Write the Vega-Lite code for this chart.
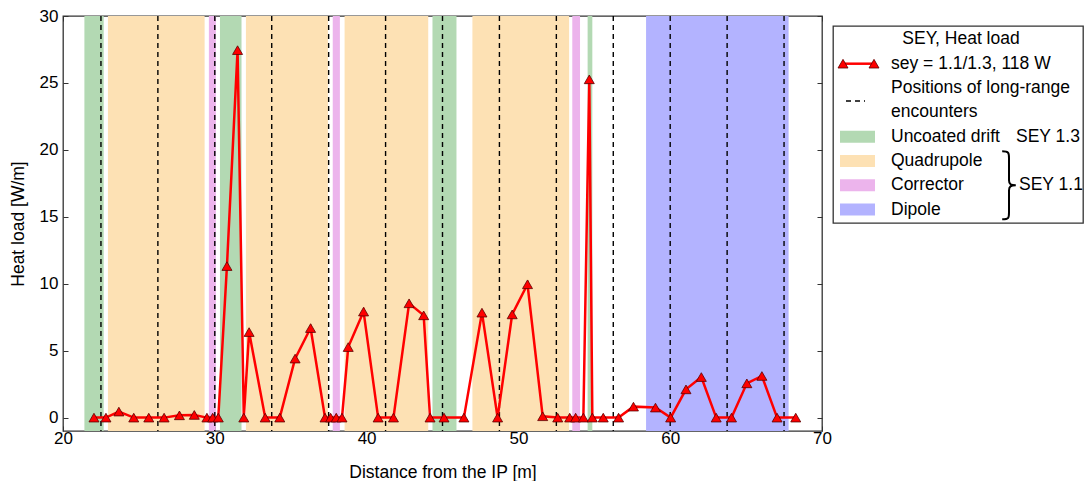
{
  "$schema": "https://vega.github.io/schema/vega-lite/v6.json",
  "background": "white",
  "padding": {"left": 8, "top": 6, "right": 2, "bottom": 0},
  "spacing": -2,
  "config": {
    "font": "Liberation Sans",
    "view": {"stroke": "#333333", "strokeWidth": 1.3},
    "axis": {"domain": false, "grid": false, "labelFlush": false, "labelFont": "Liberation Sans", "labelFontSize": 17, "labelColor": "#000000", "titleFont": "Liberation Sans", "titleFontSize": 17.5, "titleFontWeight": "normal", "titleColor": "#000000", "tickColor": "#333333", "tickSize": -5, "tickWidth": 1},
    "text": {"font": "Liberation Sans", "fontSize": 17.5, "color": "#000000", "baseline": "middle"}
  },
  "datasets": {
    "heat": [
      {"s": 22.04, "q": 0}, {"s": 22.83, "q": 0}, {"s": 23.68, "q": 0.45}, {"s": 24.66, "q": 0}, {"s": 25.65, "q": 0},
      {"s": 26.66, "q": 0}, {"s": 27.67, "q": 0.17}, {"s": 28.65, "q": 0.2}, {"s": 29.48, "q": 0}, {"s": 29.86, "q": 0},
      {"s": 30.23, "q": 0}, {"s": 30.8, "q": 11.32}, {"s": 31.5, "q": 27.45}, {"s": 31.91, "q": 0}, {"s": 32.26, "q": 6.39},
      {"s": 33.32, "q": 0}, {"s": 34.28, "q": 0}, {"s": 35.29, "q": 4.41}, {"s": 36.31, "q": 6.69}, {"s": 37.26, "q": 0},
      {"s": 37.63, "q": 0}, {"s": 38.0, "q": 0}, {"s": 38.38, "q": 0}, {"s": 38.79, "q": 5.27}, {"s": 39.8, "q": 7.92},
      {"s": 40.76, "q": 0}, {"s": 41.77, "q": 0}, {"s": 42.8, "q": 8.54}, {"s": 43.76, "q": 7.64}, {"s": 44.18, "q": 0},
      {"s": 45.1, "q": 0}, {"s": 46.41, "q": 0}, {"s": 47.6, "q": 7.84}, {"s": 48.63, "q": 0}, {"s": 49.59, "q": 7.71},
      {"s": 50.6, "q": 9.96}, {"s": 51.6, "q": 0.1}, {"s": 52.59, "q": 0}, {"s": 53.38, "q": 0}, {"s": 53.77, "q": 0},
      {"s": 54.28, "q": 0}, {"s": 54.67, "q": 25.27}, {"s": 54.87, "q": 0}, {"s": 55.59, "q": 0}, {"s": 56.6, "q": 0},
      {"s": 57.58, "q": 0.82}, {"s": 59.03, "q": 0.75}, {"s": 60.03, "q": 0}, {"s": 61.04, "q": 2.11}, {"s": 62.05, "q": 3.03},
      {"s": 63.03, "q": 0}, {"s": 64.04, "q": 0}, {"s": 65.05, "q": 2.56}, {"s": 66.04, "q": 3.11}, {"s": 67.04, "q": 0},
      {"s": 68.27, "q": 0}
    ],
    "lre": [
      {"pos": 22.5}, {"pos": 26.25}, {"pos": 30.0}, {"pos": 33.75}, {"pos": 37.5}, {"pos": 41.25}, {"pos": 45.0},
      {"pos": 48.75}, {"pos": 52.5}, {"pos": 56.25}, {"pos": 60.0}, {"pos": 63.75}, {"pos": 67.5}
    ],
    "regions": [
      {"type": "Uncoated drift", "start": 21.41, "end": 22.68},
      {"type": "Quadrupole", "start": 22.96, "end": 29.33},
      {"type": "Corrector", "start": 29.61, "end": 30.07},
      {"type": "Uncoated drift", "start": 30.34, "end": 31.76},
      {"type": "Quadrupole", "start": 32.05, "end": 37.45},
      {"type": "Corrector", "start": 37.77, "end": 38.24},
      {"type": "Quadrupole", "start": 38.55, "end": 44.06},
      {"type": "Uncoated drift", "start": 44.34, "end": 45.92},
      {"type": "Quadrupole", "start": 46.97, "end": 53.34},
      {"type": "Corrector", "start": 53.55, "end": 54.06},
      {"type": "Uncoated drift", "start": 54.56, "end": 54.87},
      {"type": "Dipole", "start": 58.41, "end": 67.8}
    ],
    "legend": [
      {"key": "title", "label": "SEY, Heat load", "kind": "title"},
      {"key": "series", "label": "sey = 1.1/1.3, 118 W", "kind": "series"},
      {"key": "enc1", "label": "Positions of long-range", "kind": "enc"},
      {"key": "enc2", "label": "encounters", "kind": "enc2"},
      {"key": "drift", "label": "Uncoated drift", "kind": "region", "type": "Uncoated drift"},
      {"key": "quad", "label": "Quadrupole", "kind": "region", "type": "Quadrupole"},
      {"key": "corr", "label": "Corrector", "kind": "region", "type": "Corrector"},
      {"key": "dipole", "label": "Dipole", "kind": "region", "type": "Dipole"},
      {"key": "drift", "label": "SEY 1.3", "kind": "note13"},
      {"key": "corr", "label": "SEY 1.1", "kind": "note11"},
      {"key": "corr", "label": "", "kind": "brace"}
    ]
  },
  "hconcat": [
    {
      "width": 759,
      "height": 415,
      "layer": [
        {
          "data": {"name": "regions"},
          "mark": {"type": "rect"},
          "encoding": {
            "x": {"field": "start", "type": "quantitative", "scale": {"domain": [20, 70], "nice": false, "zero": false}, "axis": null},
            "x2": {"field": "end"},
            "color": {"field": "type", "type": "nominal", "scale": {"domain": ["Uncoated drift", "Quadrupole", "Corrector", "Dipole"], "range": ["#b3d9b3", "#fde1b4", "#ecb4ec", "#b3b3ff"]}, "legend": null}
          }
        },
        {
          "data": {"name": "lre"},
          "mark": {"type": "rule", "strokeDash": [5, 4], "color": "#000000", "strokeWidth": 1.4},
          "encoding": {
            "x": {"field": "pos", "type": "quantitative", "axis": null}
          }
        },
        {
          "data": {"name": "heat"},
          "mark": {"type": "line", "color": "#ff0000", "strokeWidth": 2.5},
          "encoding": {
            "x": {"field": "s", "type": "quantitative", "scale": {"domain": [20, 70], "nice": false, "zero": false}, "axis": {"title": "Distance from the IP [m]", "values": [20, 30, 40, 50, 60, 70], "labelPadding": 4, "titlePadding": 17}},
            "y": {"field": "q", "type": "quantitative", "scale": {"domain": [-1, 30], "nice": false, "zero": false}, "axis": {"title": "Heat load [W/m]", "values": [0, 5, 10, 15, 20, 25, 30], "labelPadding": 10, "titlePadding": 12}}
          }
        },
        {
          "data": {"name": "heat"},
          "mark": {"type": "point", "shape": "triangle-up", "filled": true, "fill": "#ff0000", "stroke": "#5a0000", "strokeWidth": 0.8, "size": 100, "opacity": 1},
          "encoding": {
            "x": {"field": "s", "type": "quantitative", "axis": {"orient": "top", "labels": false, "title": null, "values": [20, 30, 40, 50, 60, 70]}},
            "y": {"field": "q", "type": "quantitative", "axis": {"orient": "right", "labels": false, "title": null, "values": [0, 5, 10, 15, 20, 25, 30]}}
          }
        }
      ],
      "resolve": {"axis": {"x": "independent", "y": "independent"}}
    },
    {
      "spacing": 8,
      "vconcat": [
        {
          "width": 250,
          "height": 1,
          "view": {"stroke": null},
          "data": {"values": []},
          "mark": {"type": "text"},
          "encoding": {"text": {"field": "blank"}}
        },
        {
          "width": 250,
          "height": 197,
          "data": {"name": "legend"},
          "layer": [
            {
              "transform": [{"filter": "datum.kind === 'title'"}],
              "mark": {"type": "text", "align": "center"},
              "encoding": {
                "x": {"datum": 128, "type": "quantitative", "scale": {"domain": [0, 250], "nice": false, "zero": false}, "axis": null},
                "y": {"field": "key", "type": "nominal", "scale": {"type": "point", "domain": ["title", "series", "enc1", "enc2", "drift", "quad", "corr", "dipole"], "padding": 0.55}, "axis": null},
                "text": {"field": "label"}
              }
            },
            {
              "transform": [{"filter": "datum.kind === 'series' || datum.kind === 'enc' || datum.kind === 'enc2' || datum.kind === 'region'"}],
              "mark": {"type": "text", "align": "left"},
              "encoding": {
                "x": {"datum": 58, "type": "quantitative", "scale": {"domain": [0, 250]}, "axis": null},
                "y": {"field": "key", "type": "nominal", "axis": null},
                "text": {"field": "label"}
              }
            },
            {
              "transform": [{"filter": "datum.kind === 'note13'"}],
              "mark": {"type": "text", "align": "left"},
              "encoding": {
                "x": {"datum": 183, "type": "quantitative", "scale": {"domain": [0, 250]}, "axis": null},
                "y": {"field": "key", "type": "nominal", "axis": null},
                "text": {"field": "label"}
              }
            },
            {
              "transform": [{"filter": "datum.kind === 'note11'"}],
              "mark": {"type": "text", "align": "left"},
              "encoding": {
                "x": {"datum": 186, "type": "quantitative", "scale": {"domain": [0, 250]}, "axis": null},
                "y": {"field": "key", "type": "nominal", "axis": null},
                "text": {"field": "label"}
              }
            },
            {
              "transform": [{"filter": "datum.kind === 'series'"}],
              "mark": {"type": "rule", "color": "#ff0000", "strokeWidth": 2.5},
              "encoding": {
                "x": {"datum": 10, "type": "quantitative", "scale": {"domain": [0, 250]}, "axis": null},
                "x2": {"datum": 41},
                "y": {"field": "key", "type": "nominal", "axis": null}
              }
            },
            {
              "transform": [{"filter": "datum.kind === 'series'"}],
              "mark": {"type": "point", "shape": "triangle-up", "filled": true, "fill": "#ff0000", "stroke": "#5a0000", "strokeWidth": 0.8, "size": 100, "opacity": 1},
              "encoding": {
                "x": {"datum": 10, "type": "quantitative", "scale": {"domain": [0, 250]}, "axis": null},
                "y": {"field": "key", "type": "nominal", "axis": null}
              }
            },
            {
              "transform": [{"filter": "datum.kind === 'series'"}],
              "mark": {"type": "point", "shape": "triangle-up", "filled": true, "fill": "#ff0000", "stroke": "#5a0000", "strokeWidth": 0.8, "size": 100, "opacity": 1},
              "encoding": {
                "x": {"datum": 41, "type": "quantitative", "scale": {"domain": [0, 250]}, "axis": null},
                "y": {"field": "key", "type": "nominal", "axis": null}
              }
            },
            {
              "transform": [{"filter": "datum.kind === 'enc'"}],
              "mark": {"type": "rule", "color": "#000000", "strokeWidth": 1.4, "strokeDash": [5, 4], "yOffset": 13},
              "encoding": {
                "x": {"datum": 13, "type": "quantitative", "scale": {"domain": [0, 250]}, "axis": null},
                "x2": {"datum": 32},
                "y": {"field": "key", "type": "nominal", "axis": null}
              }
            },
            {
              "transform": [{"filter": "datum.kind === 'region'"}],
              "mark": {"type": "rect", "yOffset": -6, "y2Offset": 6},
              "encoding": {
                "x": {"datum": 7, "type": "quantitative", "scale": {"domain": [0, 250]}, "axis": null},
                "x2": {"datum": 42},
                "y": {"field": "key", "type": "nominal", "axis": null},
                "y2": {"field": "key"},
                "color": {"field": "type", "type": "nominal", "scale": {"domain": ["Uncoated drift", "Quadrupole", "Corrector", "Dipole"], "range": ["#b3d9b3", "#fde1b4", "#ecb4ec", "#b3b3ff"]}, "legend": null}
              }
            },
            {
              "transform": [{"filter": "datum.kind === 'brace'"}],
              "mark": {"type": "point", "shape": "M-0.2,-1C0,-1 0,-0.95 0,-0.8L0,-0.15C0,-0.03 0.05,0 0.2,0C0.05,0 0,0.03 0,0.15L0,0.8C0,0.95 0,1 -0.2,1", "filled": false, "stroke": "#000000", "strokeWidth": 2, "size": 4624, "opacity": 1},
              "encoding": {
                "x": {"datum": 176, "type": "quantitative", "scale": {"domain": [0, 250]}, "axis": null},
                "y": {"field": "key", "type": "nominal", "axis": null}
              }
            }
          ]
        }
      ]
    }
  ]
}
